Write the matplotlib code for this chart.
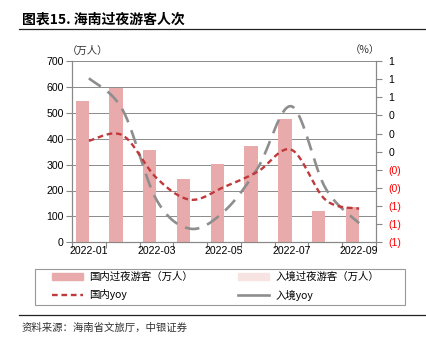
import numpy as np
import matplotlib
matplotlib.use("Agg")
import matplotlib.pyplot as plt
from matplotlib.lines import Line2D
from matplotlib.patches import Patch, Rectangle
from matplotlib.ticker import FuncFormatter

plt.rcParams['font.family'] = ['Liberation Sans', 'Noto Sans CJK SC', 'DejaVu Sans']

months = ['2022-01', '2022-02', '2022-03', '2022-04', '2022-05',
          '2022-06', '2022-07', '2022-08', '2022-09']
domestic = [545, 595, 358, 244, 304, 371, 475, 121, 137]
inbound = [2, 2, 1, 1, 1, 1, 2, 1, 1]
domestic_yoy = [0.12, 0.18, -0.29, -0.53, -0.39, -0.22, 0.02, -0.53, -0.63]
inbound_yoy = [0.81, 0.46, -0.53, -0.85, -0.66, -0.18, 0.50, -0.40, -0.79]

CJK = ['Noto Sans CJK SC', 'DejaVu Sans']
bar_c = '#E8AAAA'
bar2_c = '#F8E3E3'
red_c = '#C0393B'
gray_c = '#8E8E8E'


def catmull(xs, ys, n=30):
    xs = np.asarray(xs, float); ys = np.asarray(ys, float)
    px = np.concatenate([[xs[0]], xs, [xs[-1]]])
    py = np.concatenate([[ys[0]], ys, [ys[-1]]])
    ox, oy = [], []
    for i in range(1, len(px) - 2):
        t = np.linspace(0, 1, n)
        for p, o in ((px, ox), (py, oy)):
            p0, p1, p2, p3 = p[i - 1], p[i], p[i + 1], p[i + 2]
            o.extend(0.5 * ((2 * p1) + (-p0 + p2) * t + (2 * p0 - 5 * p1 + 4 * p2 - p3) * t ** 2
                            + (-p0 + 3 * p1 - 3 * p2 + p3) * t ** 3))
    return np.array(ox), np.array(oy)


fig = plt.figure(figsize=(4.26, 3.43), dpi=100)
W, H = 426, 343
ax = fig.add_axes([72 / W, 1 - 242.3 / H, (376 - 72) / W, (242.3 - 61) / H])
ax2 = ax.twinx()

x = np.arange(len(months))
bw = 0.395
ax.bar(x - bw / 2, domestic, width=bw, color=bar_c, zorder=3)
ax.bar(x + bw / 2, inbound, width=bw, color=bar2_c, zorder=3)
ax.set_xlim(-0.5, len(months) - 0.5)
ax.set_ylim(0, 700)
ax.set_yticks(np.arange(0, 701, 100))
ax.grid(axis='y', color='#8a8a8a', lw=0.7, zorder=0)
ax.set_axisbelow(True)

ax.set_xticks(np.arange(-0.5, len(months), 1))
ax.set_xticklabels([])
ax.set_xticks(x[::2], minor=True)
ax.set_xticklabels([months[i] for i in x[::2]], minor=True)
ax.tick_params(axis='x', which='major', length=4, direction='out', color='#888888')
ax.tick_params(axis='x', which='minor', length=0, pad=3, labelsize=7.6)
ax.tick_params(axis='y', length=4, color='#888888', labelsize=7.6, pad=2)

sx, sy = catmull(x, domestic_yoy)
ax2.plot(sx, sy, color=red_c, lw=1.7, dashes=(2.4, 1.6), zorder=5)
sx, sy = catmull(x, inbound_yoy)
ax2.plot(sx, sy, color=gray_c, lw=1.9, dashes=(5.5, 3.2), zorder=4)
ax2.set_ylim(-1.0, 1.0)
ax2.set_yticks(np.linspace(-1, 1, 11))


def fmt(v, pos):
    if v < -1e-9:
        return '(%d)' % int(np.floor(abs(v) + 0.5))
    return '%d' % int(np.floor(v + 0.5))


ax2.yaxis.set_major_formatter(FuncFormatter(fmt))
ax2.tick_params(axis='y', length=4, color='#888888', labelsize=7.6, pad=5)
for lab, v in zip(ax2.get_yticklabels(), np.linspace(-1, 1, 11)):
    if v < -1e-9:
        lab.set_color('#FF0000')

for a in (ax, ax2):
    a.spines['top'].set_visible(False)
    for s in ('left', 'right', 'bottom'):
        a.spines[s].set_color('#888888')
        a.spines[s].set_linewidth(0.8)

fig.text(88 / W, 1 - 51 / H, '（万人）', family=CJK, fontsize=7.5, ha='center', va='center', color='#333333')
fig.text(365 / W, 1 - 50 / H, '（%）', family=CJK, fontsize=7.5, ha='center', va='center', color='#333333')

# title
fig.text(22 / W, 1 - 20 / H, '图表15. 海南过夜游客人次', family=CJK, fontsize=10, fontweight='bold',
         ha='left', va='center')
fig.add_artist(Line2D([19 / W, 1], [1 - 29 / H] * 2, color='#222222', lw=0.9))
fig.add_artist(Line2D([19 / W, 1], [1 - 315 / H] * 2, color='#222222', lw=0.9))
fig.text(22 / W, 1 - 328 / H, '资料来源：海南省文旅厅，中银证券', family=CJK, fontsize=7.5,
         ha='left', va='center', style='italic', color='#333333')

# legend frame
fig.add_artist(Rectangle((35 / W, 1 - 305 / H), (405 - 35) / W, (305 - 268.5) / H,
                         transform=fig.transFigure, facecolor='none', edgecolor='#999999', lw=0.8))
handles = [Patch(color=bar_c), Line2D([], [], color=red_c, lw=1.7, dashes=(2.4, 1.6)),
           Patch(color=bar2_c), Line2D([], [], color=gray_c, lw=1.9)]
labels = ['国内过夜游客（万人）', '国内yoy', '入境过夜游客（万人）', '入境yoy']
leg = fig.legend(handles, labels, ncol=2, loc='upper left',
                 bbox_to_anchor=(52 / W, 1 - 271.5 / H),
                 prop={'family': CJK, 'size': 7.5}, frameon=False,
                 handlelength=3.0, handleheight=0.7, borderpad=0, borderaxespad=0,
                 columnspacing=4.3, labelspacing=0.72, handletextpad=0.6)

fig.savefig('out.png', dpi=100)
